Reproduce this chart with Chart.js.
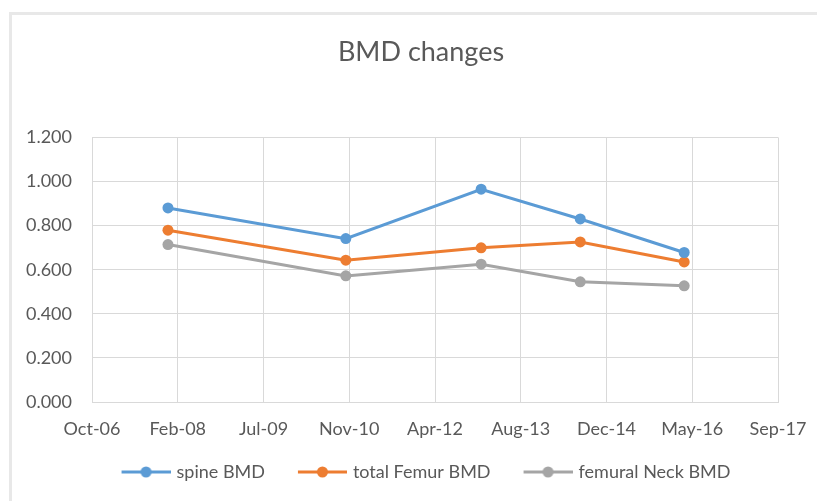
<!DOCTYPE html>
<html>
<head>
<meta charset="utf-8">
<script src="https://cdn.jsdelivr.net/npm/chart.js@4.4.1/dist/chart.umd.min.js"></script>
<style>
    html, body { margin: 0; padding: 0; background: #fff; overflow: hidden; }
    #frame {
        position: absolute; left: 9px; top: 12px; width: 900px; height: 600px;
        border: 3px solid #e8e8e8; box-sizing: border-box;
    }
    #wrap { position: absolute; left: 0; top: 0; width: 817px; height: 501px; }
</style>
</head>
<body>
<div id="frame"></div>
<div id="wrap"><canvas id="bmdChart"></canvas></div>
<script>
// scan dates and measured values
const scanDates = ["2007-12-18", "2010-10-20", "2012-12-17", "2014-07-18", "2016-03-15"];
const spineBMD = [0.880, 0.741, 0.965, 0.830, 0.678];
const totalFemurBMD = [0.779, 0.643, 0.699, 0.726, 0.635];
const femoralNeckBMD = [0.714, 0.572, 0.625, 0.545, 0.527];

// x axis: starts Oct-06, one tick every 500 days
const axisStart = "2006-10-01";
const xTickLabels = ["Oct-06", "Feb-08", "Jul-09", "Nov-10", "Apr-12", "Aug-13", "Dec-14", "May-16", "Sep-17"];
const xStepDays = 500;

const yMax = 1.2;
const yStep = 0.2;

const colors = {
    spine: "#5b9bd5",
    femur: "#ed7d31",
    neck: "#a5a5a5",
};

const tickFont = "18px Lato";

function dayNumber(s) {
    const [y, m, d] = s.split("-").map(Number);
    return Date.UTC(y, m - 1, d) / 86400000;
}

const start = dayNumber(axisStart);
function toPoints(values) {
    return values.map((v, i) => ({ x: dayNumber(scanDates[i]) - start, y: v }));
}

// widest y label, so the mirrored labels can be right-aligned at the axis
const measureCtx = document.createElement("canvas").getContext("2d");
measureCtx.font = tickFont;
let widestY = 0;
for (let v = 0; v <= yMax + 1e-9; v += yStep) {
    widestY = Math.max(widestY, measureCtx.measureText(v.toFixed(3)).width);
}

// legend marker: line with a dot, like Excel
function legendMarker(color) {
    const c = document.createElement("canvas");
    c.width = 62;
    c.height = 14;
    const g = c.getContext("2d");
    g.strokeStyle = color;
    g.lineWidth = 3;
    g.beginPath();
    g.moveTo(13, 7);
    g.lineTo(62, 7);
    g.stroke();
    g.fillStyle = color;
    g.beginPath();
    g.arc(37.5, 7, 5.5, 0, Math.PI * 2);
    g.fill();
    return c;
}

function makeDataset(label, values, color) {
    return {
        label: label,
        data: toPoints(values),
        borderColor: color,
        backgroundColor: color,
        borderWidth: 3,
        pointRadius: 5.5,
        pointBorderWidth: 0,
        pointBackgroundColor: color,
        tension: 0,
        marker: legendMarker(color),
    };
}

Chart.defaults.font.family = "Lato";
Chart.defaults.color = "#595959";

new Chart(document.getElementById("bmdChart"), {
    type: "line",
    data: {
        datasets: [
            makeDataset("spine BMD", spineBMD, colors.spine),
            makeDataset("total Femur BMD", totalFemurBMD, colors.femur),
            makeDataset("femural Neck BMD", femoralNeckBMD, colors.neck),
        ],
    },
    options: {
        responsive: true,
        maintainAspectRatio: false,
        animation: false,
        layout: { padding: { left: 64, right: 39, top: 0, bottom: 10 } },
        plugins: {
            tooltip: { enabled: false },
            title: {
                display: true,
                text: "BMD changes",
                color: "#595959",
                font: { size: 27, weight: "normal" },
                padding: { top: 36, bottom: 69 },
            },
            legend: {
                position: "bottom",
                labels: {
                    usePointStyle: true,
                    pointStyleWidth: 56,
                    padding: 23,
                    color: "#595959",
                    font: { size: 18 },
                    generateLabels: function (chart) {
                        return chart.data.datasets.map((ds, i) => ({
                            text: ds.label,
                            pointStyle: ds.marker,
                            fillStyle: ds.borderColor,
                            strokeStyle: ds.borderColor,
                            lineWidth: 0,
                            hidden: false,
                            datasetIndex: i,
                            fontColor: "#595959",
                        }));
                    },
                },
            },
        },
        scales: {
            x: {
                type: "linear",
                min: 0,
                max: xStepDays * (xTickLabels.length - 1),
                grid: { color: "#d9d9d9", lineWidth: 1, drawTicks: false },
                border: { color: "#d9d9d9" },
                ticks: {
                    stepSize: xStepDays,
                    padding: 0,
                    font: { size: 18, lineHeight: 3 },
                    color: "#595959",
                    callback: function (value) {
                        return xTickLabels[Math.round(value / xStepDays)];
                    },
                },
                afterFit: function (scale) { scale.height = 38; },
            },
            y: {
                min: 0,
                max: yMax,
                grid: { color: "#d9d9d9", lineWidth: 1, drawTicks: false },
                border: { display: false },
                ticks: {
                    stepSize: yStep,
                    mirror: true,
                    crossAlign: "far",
                    padding: -20 - widestY,
                    font: { size: 18 },
                    color: "#595959",
                    callback: function (value) { return value.toFixed(3); },
                },
                afterFit: function (scale) { scale.width = 28; },
            },
        },
    },
});
</script>
</body>
</html>
